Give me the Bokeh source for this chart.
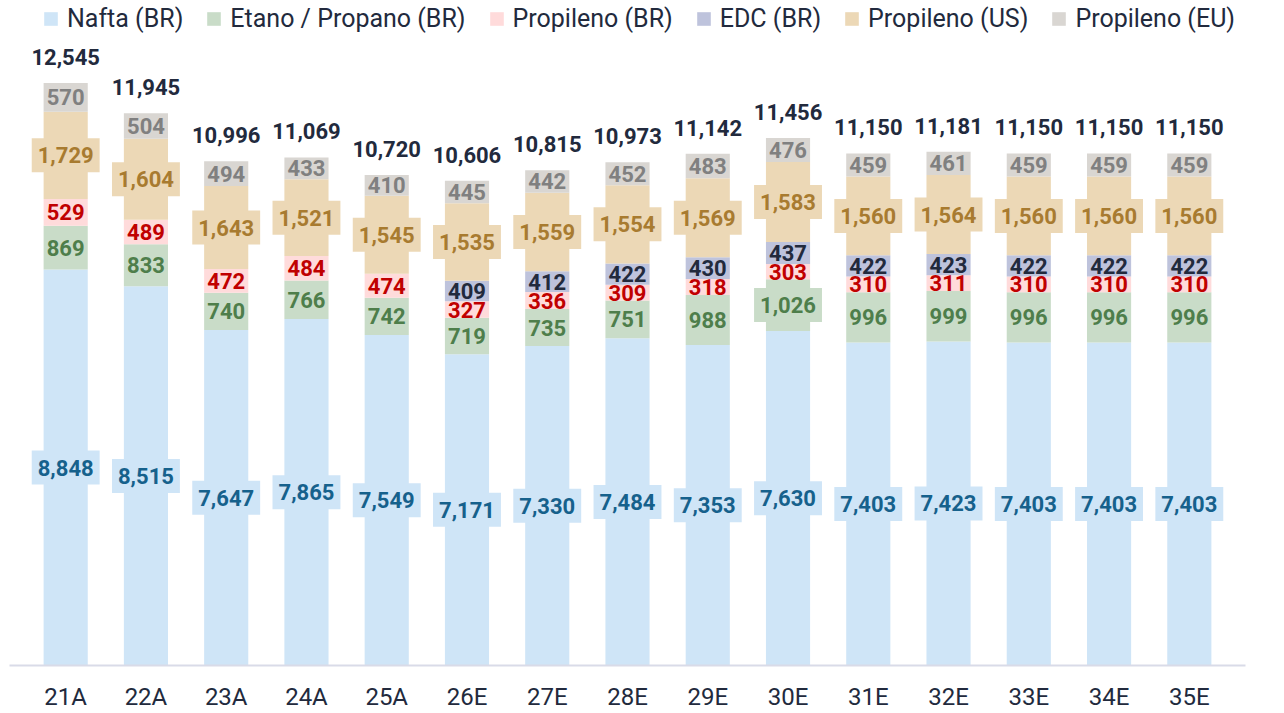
from bokeh.plotting import figure
from bokeh.models import ColumnDataSource, FactorRange, Range1d, Legend, LegendItem
from bokeh.core.properties import value
from bokeh.embed import file_html
from bokeh.resources import INLINE

categories = ["21A", "22A", "23A", "24A", "25A", "26E", "27E", "28E", "29E", "30E",
              "31E", "32E", "33E", "34E", "35E"]
nafta = [8848, 8515, 7647, 7865, 7549, 7171, 7330, 7484, 7353, 7630, 7403, 7423, 7403, 7403, 7403]
etano = [869, 833, 740, 766, 742, 719, 735, 751, 988, 1026, 996, 999, 996, 996, 996]
prop_br = [529, 489, 472, 484, 474, 327, 336, 309, 318, 303, 310, 311, 310, 310, 310]
edc = [0, 0, 0, 0, 0, 409, 412, 422, 430, 437, 422, 423, 422, 422, 422]
prop_us = [1729, 1604, 1643, 1521, 1545, 1535, 1559, 1554, 1569, 1583, 1560, 1564, 1560, 1560, 1560]
prop_eu = [570, 504, 494, 433, 410, 445, 442, 452, 483, 476, 459, 461, 459, 459, 459]
totals = [12545, 11945, 10996, 11069, 10720, 10606, 10815, 10973, 11142, 11456,
          11150, 11181, 11150, 11150, 11150]

series_names = ["Nafta (BR)", "Etano / Propano (BR)", "Propileno (BR)", "EDC (BR)",
                "Propileno (US)", "Propileno (EU)"]
series_keys = ["nafta", "etano", "prop_br", "edc", "prop_us", "prop_eu"]
series_vals = [nafta, etano, prop_br, edc, prop_us, prop_eu]
fill_colors = ["#cfe5f7", "#c9dcc8", "#ffdbdb", "#bec3dc", "#ecd8b6", "#d9d6d2"]
text_colors = ["#16618c", "#4e7e4b", "#c00000", "#222a3d", "#a87b30", "#808080"]

FONT = "Roboto"
DARK = "#222a3d"

data = {"cat": categories}
for k, v in zip(series_keys, series_vals):
    data[k] = v
src = ColumnDataSource(data)

p = figure(width=1284, height=713,
           x_range=FactorRange(*categories, range_padding=0.4 / 15),
           y_range=Range1d(1000, 14180), output_backend="svg", toolbar_location=None,
           y_axis_location=None, min_border_left=9, min_border_right=39,
           min_border_top=0, min_border_bottom=47)
p.outline_line_color = None
p.xgrid.grid_line_color = None
p.ygrid.grid_line_color = None
p.background_fill_color = "white"
p.border_fill_color = "white"

renderers = p.vbar_stack(series_keys, x="cat", width=0.55, color=fill_colors,
                         line_color=None, source=src)

# data labels
y0 = p.y_range.start
for si, (vals, fc, tc) in enumerate(zip(series_vals, fill_colors, text_colors)):
    big = {"x": [], "y": [], "t": []}
    small = {"x": [], "y": [], "t": []}
    for i, cat in enumerate(categories):
        v = vals[i]
        if v <= 0:
            continue
        base = sum(series_vals[j][i] for j in range(si))
        if si == 0:
            mid = (y0 + v) / 2.0
        else:
            mid = base + v / 2.0
        d = big if v >= 1000 else small
        d["x"].append(cat)
        d["y"].append(mid)
        d["t"].append(f"{v:,}")
    if big["x"]:
        p.text(x="x", y="y", text="t", source=ColumnDataSource(big),
               text_align="center", text_baseline="middle",
               text_font=value(FONT), text_font_style="bold", text_font_size="22px",
               text_color=tc, background_fill_color=fc,
               padding={"left": 6, "right": 6, "top": 9, "bottom": 9})
    if small["x"]:
        p.text(x="x", y="y", text="t", source=ColumnDataSource(small),
               text_align="center", text_baseline="middle",
               text_font=value(FONT), text_font_style="bold", text_font_size="22px",
               text_color=tc)

# totals
tot_src = ColumnDataSource({"x": categories, "y": totals, "t": [f"{t:,}" for t in totals]})
p.text(x="x", y="y", text="t", source=tot_src, text_align="center",
       text_baseline="middle", y_offset=-26, text_font=value(FONT),
       text_font_style="bold", text_font_size="22px", text_color=DARK)

# axis
ax = p.xaxis[0]
ax.axis_label = None
ax.axis_label_standoff = 0
ax.axis_line_color = "#d9dbe8"
ax.axis_line_width = 2
ax.major_tick_line_color = None
ax.minor_tick_line_color = None
ax.major_tick_out = 0
ax.major_tick_in = 0
ax.minor_tick_out = 0
ax.minor_tick_in = 0
ax.major_label_text_font = FONT
ax.major_label_text_font_size = "24px"
ax.major_label_text_color = DARK
ax.major_label_standoff = 17

# legend
items = [LegendItem(label=n, renderers=[r]) for n, r in zip(series_names, renderers)]
legend = Legend(items=items, orientation="horizontal", location=(33, 632),
                glyph_width=17, glyph_height=17, label_standoff=8, spacing=22,
                padding=0, margin=0, border_line_color=None, background_fill_alpha=0,
                label_text_font=FONT, label_text_font_size="25px",
                label_text_color=DARK)
p.add_layout(legend, "center")

open("out.html", "w").write(file_html(p, INLINE))
